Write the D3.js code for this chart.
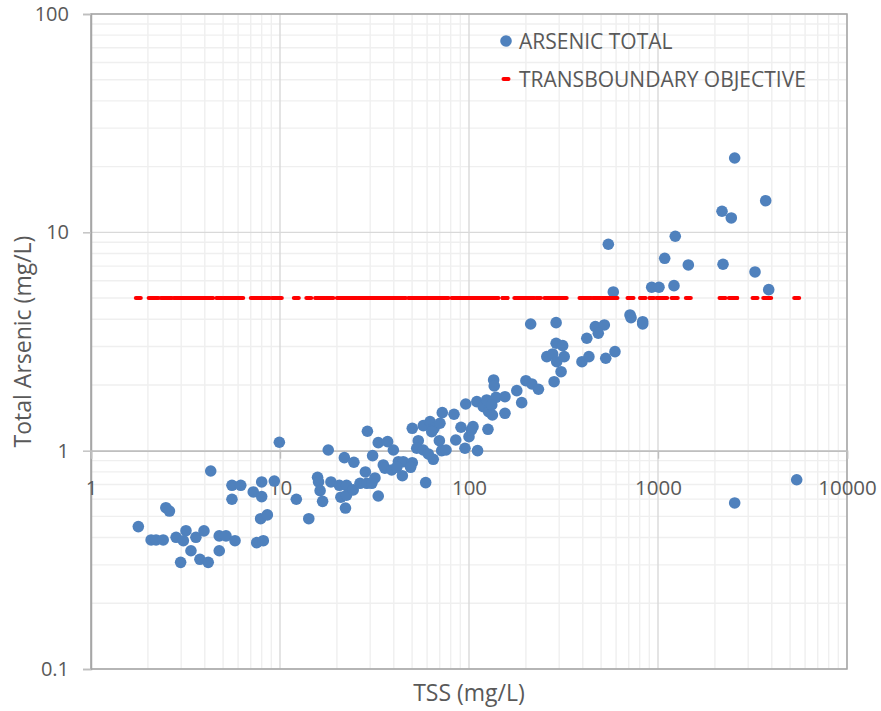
<!DOCTYPE html>
<html>
<head>
<meta charset="utf-8">
<script src="https://cdn.jsdelivr.net/npm/d3@7"></script>
<style>
  body { margin: 0; background: #fff; }
  svg text { font-family: "Open Sans", sans-serif; fill: #595959; }
</style>
</head>
<body>
<div class="chart"></div>
<script>
// TSS (mg/L) for each sample
const tss = [1.78, 2.08, 2.21, 2.41, 2.49, 2.6, 2.82, 3.18, 3.08, 3.59,
  3.96, 3.38, 2.98, 3.77, 4.17, 4.3, 4.77, 5.18, 4.77, 5.78,
  5.57, 6.2, 5.57, 7.22, 8.0, 8.0, 7.9, 8.57, 7.53, 8.16,
  9.33, 9.92, 12.2, 14.2, 18.0, 15.8, 16.0, 16.3, 16.8, 18.6,
  20.6, 22.5, 21.0, 22.5, 22.2, 21.9, 24.6, 24.4, 26.5, 28.8,
  30.6, 28.3, 29.0, 30.9, 33.1, 33.1, 31.8, 37.1, 35.2, 35.9,
  39.8, 42.3, 44.9, 39.0, 41.5, 44.4, 50.1, 53.9, 50.1, 49.1,
  52.9, 57.3, 59.0, 57.3, 62.2, 65.3, 70.2, 72.2, 83.3, 64.7,
  60.9, 69.7, 71.7, 75.6, 63.5, 85.1, 90.7, 95.2, 96.1, 100,
  105, 103, 111, 110, 119, 124, 127, 133, 135, 136,
  139, 132, 155, 155, 126, 179, 190, 200, 215, 233,
  212, 258, 277, 282, 289, 289, 313, 291, 319, 307,
  396, 431, 420, 466, 520, 483, 529, 592, 711, 720,
  830, 830, 2545, 3714, 2181, 2442, 1234, 546, 1085, 1447,
  2208, 3261, 926, 1012, 1215, 580, 3853, 5418, 2545];

// Total arsenic (mg/L), same order as tss
const arsenic = [0.449, 0.39, 0.39, 0.39, 0.548, 0.529, 0.401, 0.43, 0.387, 0.401,
  0.429, 0.348, 0.308, 0.318, 0.308, 0.807, 0.407, 0.407, 0.348, 0.387,
  0.694, 0.694, 0.599, 0.647, 0.719, 0.616, 0.488, 0.508, 0.379, 0.387,
  0.726, 1.093, 0.599, 0.488, 1.007, 0.755, 0.719, 0.656, 0.586, 0.719,
  0.694, 0.694, 0.612, 0.625, 0.546, 0.929, 0.885, 0.661, 0.709, 0.709,
  0.709, 0.799, 1.227, 0.949, 1.088, 0.62, 0.75, 1.1, 0.86, 0.831,
  1.007, 0.89, 0.89, 0.816, 0.839, 0.768, 1.266, 1.111, 0.881, 0.839,
  1.026, 1.007, 0.714, 1.302, 1.358, 1.266, 1.335, 1.493, 1.468, 0.913,
  0.966, 1.111, 1.0, 1.007, 1.222, 1.119, 1.28, 1.026, 1.636, 1.159,
  1.288, 1.244, 1.0, 1.677, 1.59, 1.707, 1.509, 1.457, 2.108, 1.979,
  1.756, 1.62, 1.767, 1.483, 1.253, 1.883, 1.659, 2.092, 2.021, 1.911,
  3.804, 2.695, 2.773, 2.07, 3.857, 3.104, 3.027, 2.556, 2.695, 2.3,
  2.556, 2.695, 3.272, 3.698, 3.765, 3.449, 2.65, 2.841, 4.183, 4.066,
  3.897, 3.804, 21.9, 13.96, 12.49, 11.64, 9.594, 8.819, 7.606, 7.088,
  7.141, 6.584, 5.603, 5.603, 5.698, 5.332, 5.465, 0.736, 0.576];

const objective = 5; // transboundary objective, mg/L
const xTicks = [1, 10, 100, 1000, 10000];
const yTicks = [0.1, 1, 10, 100];
const seriesNames = ["ARSENIC TOTAL", "TRANSBOUNDARY OBJECTIVE"];

const data = tss.map((t, i) => ({tss: t, as: arsenic[i]}));

const margin = {top: 14, right: 34, bottom: 42, left: 91};
const width = 881 - margin.left - margin.right;
const height = 711 - margin.top - margin.bottom;

const svg = d3.select("div.chart").append("svg")
  .attr("width", 881)
  .attr("height", 711)
  .append("g")
  .attr("transform", `translate(${margin.left},${margin.top})`);

const x = d3.scaleLog().domain([1, 10000]).range([0, width]);
const y = d3.scaleLog().domain([0.1, 100]).range([height, 0]);

// minor gridlines
svg.append("g").selectAll("line")
  .data(x.ticks().filter(d => !xTicks.includes(d)))
  .join("line")
  .attr("x1", d => x(d)).attr("x2", d => x(d))
  .attr("y1", 0).attr("y2", height)
  .attr("stroke", "#efefef").attr("stroke-width", 1.4);

svg.append("g").selectAll("line")
  .data(y.ticks().filter(d => !yTicks.includes(d)))
  .join("line")
  .attr("x1", 0).attr("x2", width)
  .attr("y1", d => y(d)).attr("y2", d => y(d))
  .attr("stroke", "#efefef").attr("stroke-width", 1.4);

// major gridlines
svg.append("g").selectAll("line")
  .data(xTicks)
  .join("line")
  .attr("x1", d => x(d)).attr("x2", d => x(d))
  .attr("y1", 0).attr("y2", height)
  .attr("stroke", "#d9d9d9").attr("stroke-width", 1.4);

svg.append("g").selectAll("line")
  .data(yTicks)
  .join("line")
  .attr("x1", 0).attr("x2", width)
  .attr("y1", d => y(d)).attr("y2", d => y(d))
  .attr("stroke", "#d9d9d9").attr("stroke-width", 1.4);

// plot border
svg.append("rect")
  .attr("x", 0).attr("y", 0)
  .attr("width", width).attr("height", height)
  .attr("fill", "none")
  .attr("stroke", "#a6a6a6")
  .attr("stroke-width", 1.5);

// y axis on the left
const yAxis = svg.append("g")
  .call(d3.axisLeft(y).tickValues(yTicks).tickSize(8).tickPadding(14)
    .tickFormat(d => d < 1 ? d3.format(".1f")(d) : d3.format("d")(d)));
yAxis.select(".domain").attr("stroke", "#a6a6a6").attr("stroke-width", 1.5);
yAxis.selectAll(".tick line").attr("stroke", "#bfbfbf").attr("stroke-width", 1.4);
yAxis.selectAll(".tick text").style("font-size", "20px").attr("fill", "#595959");

// x axis crosses at y = 1
const xAxis = svg.append("g")
  .attr("transform", `translate(0,${y(1)})`)
  .call(d3.axisBottom(x).tickValues(xTicks).tickSize(8).tickPadding(22)
    .tickFormat(d3.format("d")));
xAxis.select(".domain").attr("stroke", "#bfbfbf").attr("stroke-width", 1.5);
xAxis.selectAll(".tick line").attr("stroke", "#bfbfbf").attr("stroke-width", 1.4);
xAxis.selectAll(".tick text").style("font-size", "20.5px").attr("fill", "#595959");

// arsenic points
svg.append("g").selectAll("circle")
  .data(data)
  .join("circle")
  .attr("cx", d => x(d.tss))
  .attr("cy", d => y(d.as))
  .attr("r", 5.8)
  .attr("fill", "#4f81bd");

// objective markers (one dash per sample)
svg.append("g").selectAll("line")
  .data(data)
  .join("line")
  .attr("x1", d => x(d.tss) - 2.5)
  .attr("x2", d => x(d.tss) + 2.5)
  .attr("y1", y(objective))
  .attr("y2", y(objective))
  .attr("stroke", "#ff0000")
  .attr("stroke-width", 4)
  .attr("stroke-linecap", "round");

// legend
const legend = svg.append("g").attr("transform", `translate(${506 - margin.left},${41 - margin.top})`);
legend.append("circle").attr("cx", 0).attr("cy", 0).attr("r", 5.8).attr("fill", "#4f81bd");
legend.append("line")
  .attr("x1", -2.5).attr("x2", 2.5).attr("y1", 38).attr("y2", 38)
  .attr("stroke", "#ff0000").attr("stroke-width", 4).attr("stroke-linecap", "round");
legend.selectAll("text")
  .data(seriesNames)
  .join("text")
  .attr("x", 13)
  .attr("y", (d, i) => i * 38)
  .attr("dy", "0.36em")
  .style("font-size", "21px")
  .text(d => d);

// axis titles
svg.append("text")
  .attr("text-anchor", "middle")
  .attr("x", width / 2)
  .attr("y", height + 32)
  .style("font-size", "23px")
  .text("TSS (mg/L)");

svg.append("text")
  .attr("text-anchor", "middle")
  .attr("transform", "rotate(-90)")
  .attr("x", -height / 2)
  .attr("y", -margin.left + 31)
  .style("font-size", "23px")
  .text("Total Arsenic (mg/L)");
</script>
</body>
</html>
